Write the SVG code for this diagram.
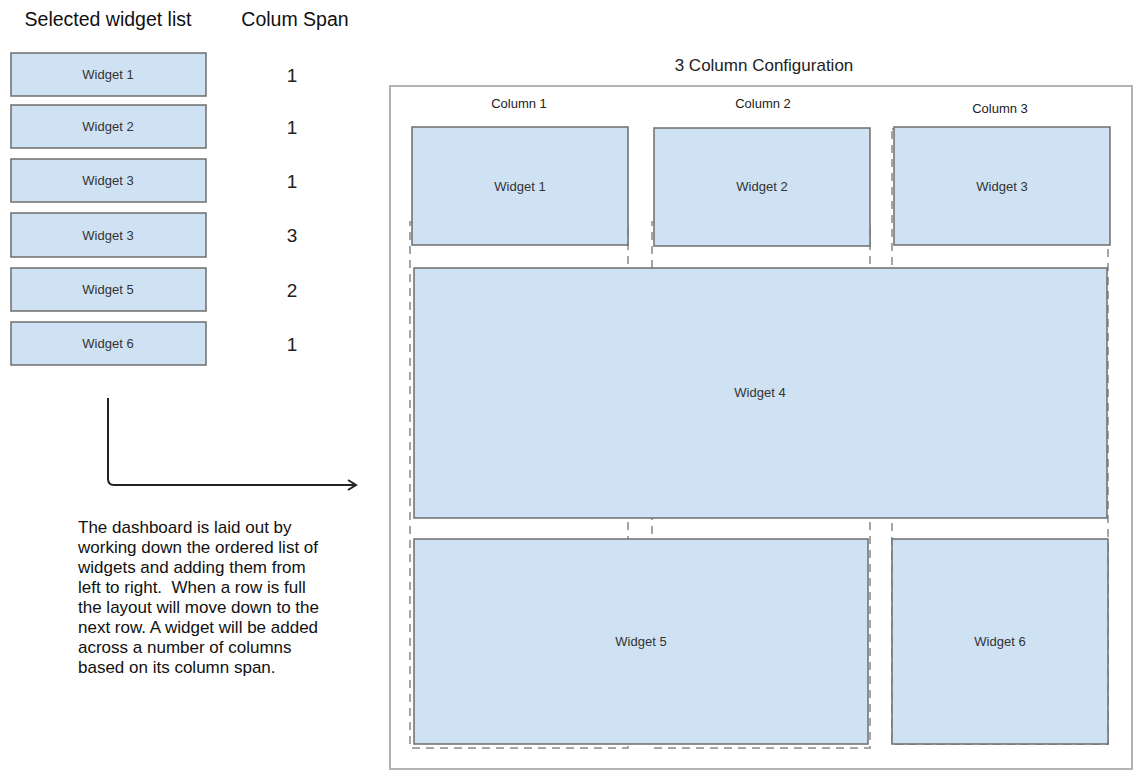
<svg xmlns="http://www.w3.org/2000/svg" width="1145" height="781" viewBox="0 0 1145 781">
<style>
text{font-family:"Liberation Sans",Arial,sans-serif;}
.w{fill:#cfe2f3;stroke:#6d6d6d;stroke-width:1.5;}
.wl{font-size:13px;fill:#333;text-anchor:middle;dominant-baseline:central;}
.num{font-size:19px;fill:#222;text-anchor:middle;dominant-baseline:central;}
.hd{font-size:19.5px;fill:#111;text-anchor:middle;}
.col{font-size:13px;fill:#222;text-anchor:middle;}
.dash{fill:none;stroke:#a6a6a6;stroke-width:2;stroke-dasharray:8,6;}
.para{font-size:17px;fill:#111;}
</style>
<defs>
<marker id="arr" markerWidth="12" markerHeight="12" refX="10" refY="6" orient="auto" markerUnits="userSpaceOnUse">
<path d="M2,1 L10,6 L2,11" fill="none" stroke="#222" stroke-width="2"/>
</marker>
</defs>
<rect width="1145" height="781" fill="#fff"/>
<g id="headers">
<text class="hd" x="108" y="26">Selected widget list</text>
<text class="hd" x="295" y="26">Colum Span</text>
</g>
<g id="list-w1"><rect class="w" x="11" y="53" width="195" height="43"/><text class="wl" x="108" y="74.5">Widget 1</text><text class="num" x="292" y="75">1</text></g>
<g id="list-w2"><rect class="w" x="11" y="105" width="195" height="43"/><text class="wl" x="108" y="126.5">Widget 2</text><text class="num" x="292" y="127">1</text></g>
<g id="list-w3"><rect class="w" x="11" y="159" width="195" height="43"/><text class="wl" x="108" y="180.5">Widget 3</text><text class="num" x="292" y="181">1</text></g>
<g id="list-w3b"><rect class="w" x="11" y="213" width="195" height="44"/><text class="wl" x="108" y="235">Widget 3</text><text class="num" x="292" y="235">3</text></g>
<g id="list-w5"><rect class="w" x="11" y="268" width="195" height="43"/><text class="wl" x="108" y="289.5">Widget 5</text><text class="num" x="292" y="290">2</text></g>
<g id="list-w6"><rect class="w" x="11" y="322" width="195" height="43"/><text class="wl" x="108" y="343.5">Widget 6</text><text class="num" x="292" y="344">1</text></g>
<g id="connectors">
<path d="M108,398 L108,479 Q108,485 114,485 L356,485" fill="none" stroke="#222" stroke-width="2" marker-end="url(#arr)"/>
</g>
<g id="description">
<text class="para" x="78" y="533">The dashboard is laid out by</text>
<text class="para" x="78" y="553">working down the ordered list of</text>
<text class="para" x="78" y="573">widgets and adding them from</text>
<text class="para" x="78" y="593" xml:space="preserve">left to right.  When a row is full</text>
<text class="para" x="78" y="613">the layout will move down to the</text>
<text class="para" x="78" y="633">next row. A widget will be added</text>
<text class="para" x="78" y="653">across a number of columns</text>
<text class="para" x="78" y="673">based on its column span.</text>
</g>
<g id="config">
<text x="764" y="71" font-size="17" fill="#222" text-anchor="middle" style="font-family:'Liberation Sans',Arial,sans-serif">3 Column Configuration</text>
<rect x="390" y="86" width="742" height="683" fill="none" stroke="#b3b3b3" stroke-width="2"/>
</g>
<g id="columns">
<rect class="dash" x="410" y="222" width="218" height="526"/>
<rect class="dash" x="652" y="222" width="218" height="526"/>
<rect class="dash" x="892" y="129" width="216" height="615"/>
<text class="col" x="519" y="108">Column 1</text>
<text class="col" x="763" y="108">Column 2</text>
<text class="col" x="1000" y="113">Column 3</text>
</g>
<g id="w1"><rect class="w" x="412" y="127" width="216" height="118"/><text class="wl" x="520" y="186">Widget 1</text></g>
<g id="w2"><rect class="w" x="654" y="128" width="216" height="118"/><text class="wl" x="762" y="186">Widget 2</text></g>
<g id="w3"><rect class="w" x="894" y="127" width="216" height="118"/><text class="wl" x="1002" y="186">Widget 3</text></g>
<g id="w4"><rect class="w" x="414" y="268" width="693" height="250"/><text class="wl" x="760" y="392">Widget 4</text></g>
<g id="w5"><rect class="w" x="414" y="539" width="454" height="205"/><text class="wl" x="641" y="641">Widget 5</text></g>
<g id="w6"><rect class="w" x="892" y="539" width="216" height="205"/><text class="wl" x="1000" y="641">Widget 6</text></g>
</svg>
